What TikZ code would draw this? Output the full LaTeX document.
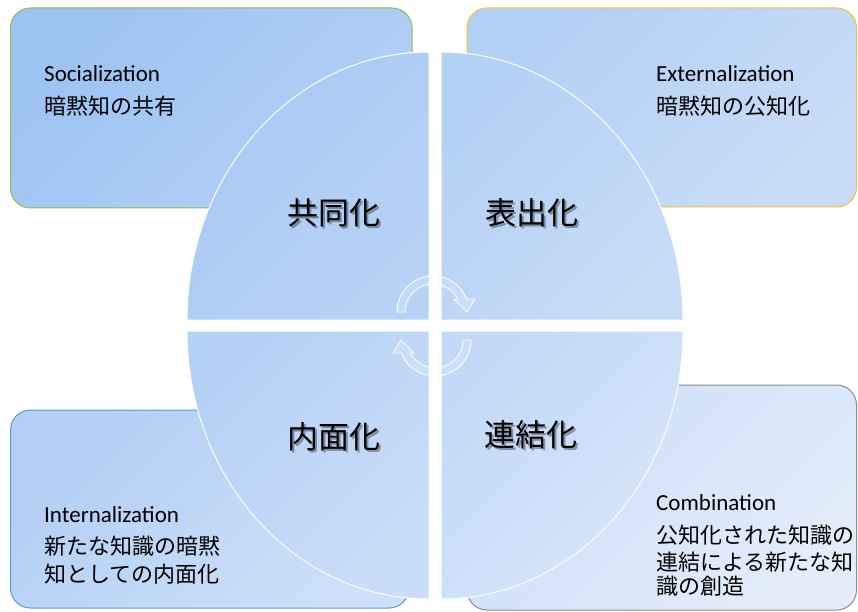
\documentclass[tikz,border=0pt]{standalone}
\usepackage{fontspec}
\setmainfont{Carlito}[Ligatures={Common,Rare}]
\newfontfamily\jp{Noto Sans CJK JP}
\definecolor{bGreen}{HTML}{8DBB5A}
\definecolor{bGold}{HTML}{F2C13A}
\definecolor{bBlue}{HTML}{5B9BD5}
\definecolor{bGray}{HTML}{8C8C8C}
\definecolor{tlA}{HTML}{9DC3F3}\definecolor{tlB}{HTML}{B4D0F5}
\definecolor{trA}{HTML}{B3D0F5}\definecolor{trB}{HTML}{C9DCF7}
\definecolor{blA}{HTML}{B3CFF5}\definecolor{blB}{HTML}{CDE0F8}
\definecolor{brA}{HTML}{CCDFF8}\definecolor{brB}{HTML}{E3EDFA}
\definecolor{q1A}{HTML}{A8C9F4}\definecolor{q1B}{HTML}{B8D2F5}
\definecolor{q2A}{HTML}{B3D0F5}\definecolor{q2B}{HTML}{C8DCF7}
\definecolor{q3A}{HTML}{B6D1F6}\definecolor{q3B}{HTML}{CADDF8}
\definecolor{q4A}{HTML}{C3D9F7}\definecolor{q4B}{HTML}{D9E7F9}
\tikzset{
  boxline/.style={line width=1pt, rounded corners=20pt},
  quadline/.style={draw=white, line width=1pt},
  gsh/.style 2 args={top color=#1, bottom color=#2, shading angle=45},
  cyclearrow/.style={fill=white, fill opacity=0.18, draw=white, draw opacity=1, line width=0.9pt, line join=miter},
  lat/.style={inner sep=0pt, anchor=base west, font=\fontsize{23}{23}\selectfont},
  jpl/.style={inner sep=0pt, anchor=west, font=\jp\fontsize{22}{22}\selectfont},
  big/.style={inner sep=0pt, anchor=center, font=\jp\fontsize{31}{31}\selectfont},
  bigshadow/.style={big, text=black, opacity=0.35},
}
\begin{document}
\begin{tikzpicture}[x=1pt,y=-1pt]
\useasboundingbox (0,0) rectangle (858,612);
\fill[white] (0,0) rectangle (858,612);
% corner boxes
\shade[gsh={tlA}{tlB}, rounded corners=20pt] (10.5,8) rectangle (412,208);
\draw[boxline, draw=bGreen] (10.5,8) rectangle (412,208);
\shade[gsh={trA}{trB}, rounded corners=20pt] (467,8) rectangle (856.5,207);
\draw[boxline, draw=bGold] (467,8) rectangle (856.5,207);
\shade[gsh={blA}{blB}, rounded corners=20pt] (10.5,410) rectangle (409,608);
\draw[boxline, draw=bBlue] (10.5,410) rectangle (409,608);
\shade[gsh={brA}{brB}, rounded corners=20pt] (467,385) rectangle (856.5,610);
\draw[boxline, draw=bGray] (467,385) rectangle (856.5,610);
% quadrants
\shade[gsh={q1A}{q1B}] (429,320) -- (187,320) arc[start angle=180,end angle=270,x radius=242,y radius=268] -- cycle;
\draw[quadline] (429,320) -- (187,320) arc[start angle=180,end angle=270,x radius=242,y radius=268] -- cycle;
\shade[gsh={q2A}{q2B}] (441,320) -- (441,52) arc[start angle=270,end angle=360,x radius=242,y radius=268] -- cycle;
\draw[quadline] (441,320) -- (441,52) arc[start angle=270,end angle=360,x radius=242,y radius=268] -- cycle;
\shade[gsh={q3A}{q3B}] (429,331) -- (429,599) arc[start angle=90,end angle=180,x radius=242,y radius=268] -- cycle;
\draw[quadline] (429,331) -- (429,599) arc[start angle=90,end angle=180,x radius=242,y radius=268] -- cycle;
\shade[gsh={q4A}{q4B}] (441,331) -- (683,331) arc[start angle=0,end angle=90,x radius=242,y radius=268] -- cycle;
\draw[quadline] (441,331) -- (683,331) arc[start angle=0,end angle=90,x radius=242,y radius=268] -- cycle;
% cycle arrows
\path[cyclearrow] (397,312) arc[start angle=180,end angle=338.8,radius=36] -- (475,299) -- (467,312) -- (454,299) -- (457.8,299) arc[start angle=332.3,end angle=180,radius=28] -- cycle;
\path[cyclearrow, rotate around={180:(434,326)}] (397,312) arc[start angle=180,end angle=338.8,radius=36] -- (475,299) -- (467,312) -- (454,299) -- (457.8,299) arc[start angle=332.3,end angle=180,radius=28] -- cycle;
% quadrant labels
\node[bigshadow] (q1s) at (335.5,214.5) {共同化};
\node[big] (q1) at (334,213) {共同化};
\node[bigshadow] (q2s) at (533.5,214.5) {表出化};
\node[big] (q2) at (532,213) {表出化};
\node[bigshadow] (q3s) at (335.5,438.5) {内面化};
\node[big] (q3) at (334,437) {内面化};
\node[bigshadow] (q4s) at (532.5,436.5) {連結化};
\node[big] (q4) at (531,435) {連結化};
% box texts
\node[lat] (s1) at (44,82) {Socialization};
\node[jpl] (s2) at (44,106) {暗黙知の共有};
\node[lat] (e1) at (656,82) {Externalization};
\node[jpl] (e2) at (656,106) {暗黙知の公知化};
\node[lat] (i1) at (44,522) {Internalization};
\node[jpl] (i2) at (44,546) {新たな知識の暗黙};
\node[jpl] (i3) at (44,574) {知としての内面化};
\node[lat] (c1) at (656,510) {Combination};
\node[jpl] (c2) at (656,535) {公知化された知識の};
\node[jpl] (c3) at (656,562) {連結による新たな知};
\node[jpl] (c4) at (656,586) {識の創造};
\end{tikzpicture}
\end{document}
